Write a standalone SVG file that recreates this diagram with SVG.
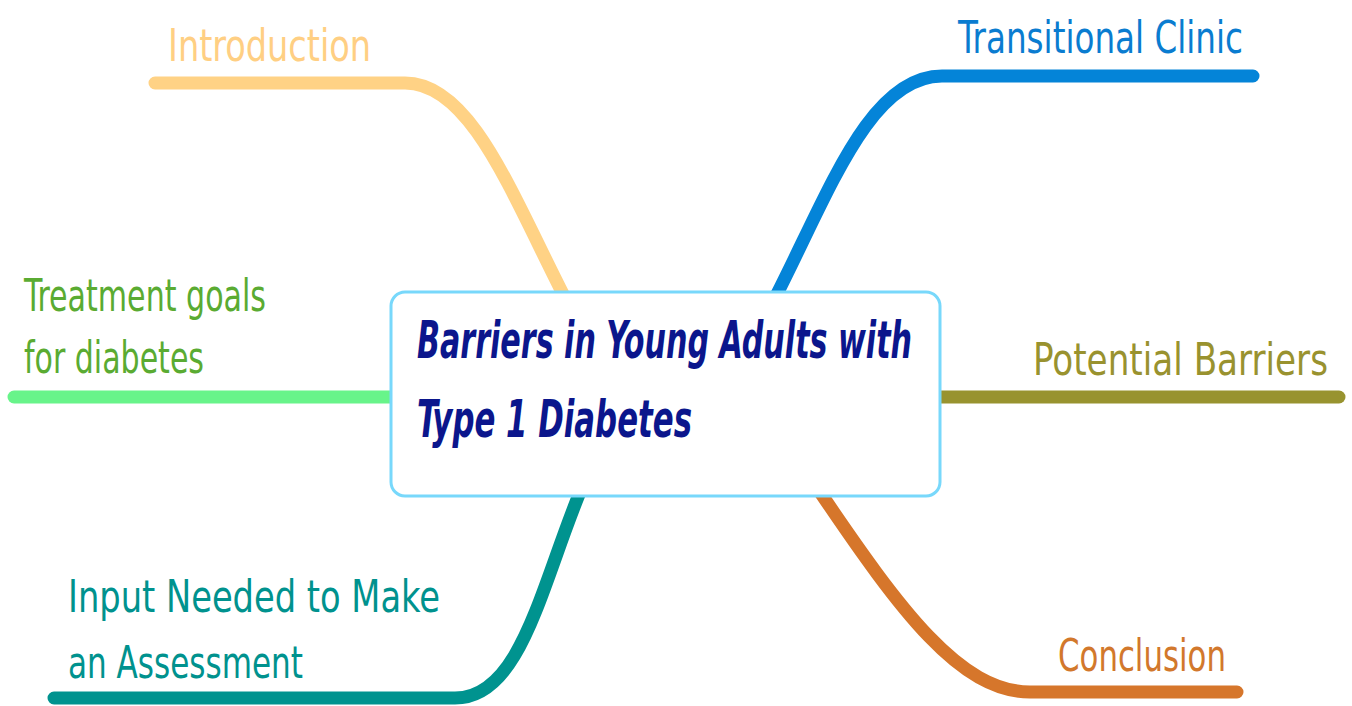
<svg xmlns="http://www.w3.org/2000/svg" width="1352" height="706" viewBox="0 0 1352 706">
  <style>
    .branch { fill: none; stroke-width: 13; stroke-linecap: round; }
    .label { font-family: "DejaVu Sans Condensed", "DejaVu Sans", "Liberation Sans Narrow", sans-serif; font-size: 44px; }
    .title { font-family: "DejaVu Sans Condensed", "DejaVu Sans", "Liberation Sans", sans-serif; font-size: 52px; font-weight: bold; font-style: italic; fill: #0b168c; }
  </style>
  <rect x="0" y="0" width="1352" height="706" fill="#ffffff"/>

  <!-- branch connectors -->
  <g id="connectors">
    <path class="branch" stroke="#ffd285" d="M155,83 H405 C470,83 510,190 564,296"/>
    <path class="branch" stroke="#0484d8" d="M776,296 C830,190 870,76 942,76 H1253"/>
    <path class="branch" stroke="#68f48a" d="M14,397 H392"/>
    <path class="branch" stroke="#98932f" d="M938,397 H1339"/>
    <path class="branch" stroke="#00938f" d="M580,492 C540,590 520,698 455,698 H54"/>
    <path class="branch" stroke="#d6762b" d="M820,492 C900,610 960,692 1030,692 H1237"/>
  </g>

  <!-- central topic -->
  <g id="center">
    <rect x="391" y="292" width="549" height="204" rx="14" ry="14" fill="#ffffff" stroke="#78d8fb" stroke-width="3"/>
    <text class="title" x="417" y="358" textLength="495" lengthAdjust="spacingAndGlyphs">Barriers in Young Adults with</text>
    <text class="title" x="417" y="437" textLength="275" lengthAdjust="spacingAndGlyphs">Type 1 Diabetes</text>
  </g>

  <g id="introduction">
    <text class="label" x="168" y="61" fill="#ffcf83" textLength="203" lengthAdjust="spacingAndGlyphs">Introduction</text>
  </g>

  <g id="transitional-clinic">
    <text class="label" x="958" y="53" fill="#0a7cd0" textLength="285" lengthAdjust="spacingAndGlyphs">Transitional Clinic</text>
  </g>

  <g id="treatment-goals">
    <text class="label" x="24" y="311" fill="#5aab32" textLength="242" lengthAdjust="spacingAndGlyphs">Treatment goals</text>
    <text class="label" x="24" y="373" fill="#5aab32" textLength="180" lengthAdjust="spacingAndGlyphs">for diabetes</text>
  </g>

  <g id="potential-barriers">
    <text class="label" x="1033" y="375" fill="#99922f" textLength="295" lengthAdjust="spacingAndGlyphs">Potential Barriers</text>
  </g>

  <g id="input-needed">
    <text class="label" x="68" y="612" fill="#00928e" textLength="372" lengthAdjust="spacingAndGlyphs">Input Needed to Make</text>
    <text class="label" x="68" y="678" fill="#00928e" textLength="235" lengthAdjust="spacingAndGlyphs">an Assessment</text>
  </g>

  <g id="conclusion">
    <text class="label" x="1058" y="671" fill="#d2782c" textLength="168" lengthAdjust="spacingAndGlyphs">Conclusion</text>
  </g>
</svg>
